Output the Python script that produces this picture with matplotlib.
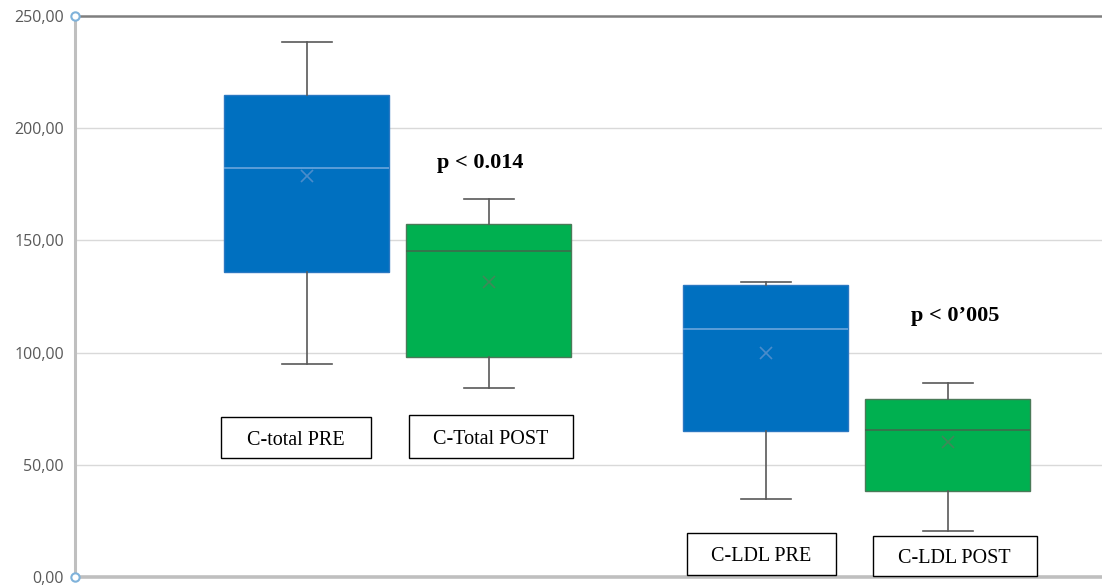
import matplotlib
matplotlib.use("Agg")
import matplotlib.pyplot as plt
from matplotlib.patches import Rectangle
from matplotlib.ticker import FixedLocator, FuncFormatter

# Cholesterol values (mg/dL) before and after treatment
groups = ["C-total PRE", "C-Total POST", "C-LDL PRE", "C-LDL POST"]
whisker_low = [94.8, 84.2, 34.8, 20.5]
q1 = [136.1, 98.0, 65.0, 38.3]
medians = [182.1, 145.4, 110.4, 65.5]
q3 = [214.8, 157.3, 130.1, 79.3]
whisker_high = [238.5, 168.4, 131.3, 86.6]
means = [178.5, 131.6, 99.7, 60.3]
p_labels = ["p < 0.014", "p < 0\u2019005"]
y_ticks = [0, 50, 100, 150, 200, 250]

positions = [0.0, 1.0, 2.522, 3.522]
face_colors = ["#0070C0", "#00B050", "#0070C0", "#00B050"]
edge_colors = ["#2A78C2", "#4A7A58", "#2A78C2", "#4A7A58"]
median_colors = ["#6AA6DC", "#3F6B4C", "#6AA6DC", "#3F6B4C"]
mean_colors = ["#4A8CCB", "#3E8A58", "#4A8CCB", "#3E8A58"]

fig = plt.figure(figsize=(11.02, 5.88), dpi=100)
ax = fig.add_axes([75 / 1102, 11 / 588, 1 - 75 / 1102 + 0.01, 561 / 588])

stats = []
for i, name in enumerate(groups):
    stats.append(dict(label=name, whislo=whisker_low[i], q1=q1[i], med=medians[i],
                      q3=q3[i], whishi=whisker_high[i], mean=means[i], fliers=[]))

for i, st in enumerate(stats):
    ax.bxp([st], positions=[positions[i]], widths=0.907, capwidths=0.275,
           patch_artist=True, showmeans=True, showfliers=False,
           boxprops=dict(facecolor=face_colors[i], edgecolor=edge_colors[i], linewidth=1.0),
           medianprops=dict(color=median_colors[i], linewidth=1.2),
           whiskerprops=dict(color="#595959", linewidth=1.2),
           capprops=dict(color="#595959", linewidth=1.2),
           meanprops=dict(marker="x", markeredgecolor=mean_colors[i],
                          markersize=9, markeredgewidth=1.2),
           zorder=3)

ax.set_ylim(0, 250)
ax.set_xlim(-1.275, 4.43)
ax.yaxis.set_major_locator(FixedLocator(y_ticks))
ax.yaxis.set_major_formatter(FuncFormatter(lambda v, _: f"{v:.2f}".replace(".", ",")))
ax.set_xticks([])
ax.tick_params(axis="y", length=0, pad=8, labelsize=11.5, labelcolor="#595959")
for lbl in ax.get_yticklabels():
    lbl.set_fontfamily("Open Sans")

for v in y_ticks[1:-1]:
    ax.axhline(v, color="#D9D9D9", linewidth=1.0, zorder=0)

ax.spines["right"].set_visible(False)
ax.spines["left"].set_color("#BFBFBF")
ax.spines["left"].set_linewidth(2.2)
ax.spines["bottom"].set_color("#BFBFBF")
ax.spines["bottom"].set_linewidth(2.6)
ax.spines["top"].set_color("#7F7F7F")
ax.spines["top"].set_linewidth(1.8)

# small handles at the ends of the value axis
ax.plot([0, 0], [0, 250], transform=ax.get_yaxis_transform(), linestyle="none",
        marker="o", markersize=6, markerfacecolor="white", markeredgecolor="#7FB2DA",
        markeredgewidth=1.5, clip_on=False, zorder=6)

# category label boxes
label_boxes = [(-0.060, 0.824, 53.0, 71.3), (1.011, 0.901, 53.0, 72.2),
               (2.497, 0.819, 0.9, 19.6), (3.560, 0.901, 0.3, 18.3)]
for name, (cx, w, y0, y1) in zip(groups, label_boxes):
    ax.add_patch(Rectangle((cx - w / 2, y0), w, y1 - y0, facecolor="white",
                           edgecolor="black", linewidth=1.0, zorder=5, clip_on=False))
    ax.text(cx, (y0 + y1) / 2 - 1.2, name, ha="center", va="center", fontsize=14.5,
            family="Liberation Serif", color="black", zorder=6)

# significance annotations
ax.text(0.95, 184.5, p_labels[0], ha="center", va="center", fontsize=16,
        fontweight="bold", family="Liberation Serif", zorder=6)
ax.text(3.56, 116.5, p_labels[1], ha="center", va="center", fontsize=16,
        fontweight="bold", family="Liberation Serif", zorder=6)

fig.savefig("out.png", dpi=100, facecolor="white")
